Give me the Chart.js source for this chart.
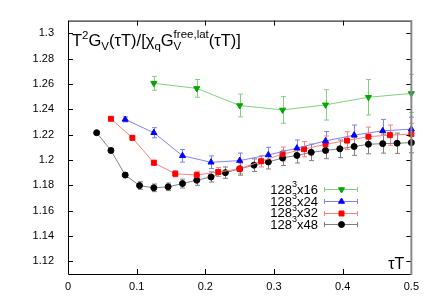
<!DOCTYPE html>
<html>
<head>
<meta charset="utf-8">
<script src="https://cdn.jsdelivr.net/npm/chart.js@4.4.1/dist/chart.umd.min.js"></script>
<style>
    html, body { margin: 0; padding: 0; background: #fff; }
    #wrap { width: 425px; height: 298px; }
</style>
</head>
<body>
<div id="wrap"><canvas id="chart"></canvas></div>
<script>
// Axis ticks
const xTicks = [0, 0.1, 0.2, 0.3, 0.4, 0.5];
const yTicks = [1.12, 1.14, 1.16, 1.18, 1.2, 1.22, 1.24, 1.26, 1.28, 1.3];

// 128^3 x 16
const x16 = [0.125, 0.1875, 0.25, 0.3125, 0.375, 0.4375, 0.5];
const y16 = [1.2605, 1.2565, 1.243, 1.2395, 1.2435, 1.2495, 1.2525];
const e16 = [0.0055, 0.007, 0.009, 0.0105, 0.012, 0.014, 0.015];

// 128^3 x 24
const x24 = [0.0833, 0.125, 0.1667, 0.2083, 0.25, 0.2917, 0.3333, 0.375, 0.4167, 0.4583, 0.5];
const y24 = [1.232, 1.2215, 1.2033, 1.1982, 1.1995, 1.204, 1.2093, 1.215, 1.2196, 1.223, 1.2243];
const e24 = [0.002, 0.004, 0.005, 0.005, 0.006, 0.006, 0.0065, 0.0075, 0.008, 0.009, 0.0095];

// 128^3 x 32
const x32 = [0.0625, 0.09375, 0.125, 0.15625, 0.1875, 0.21875, 0.25, 0.28125, 0.3125, 0.34375, 0.375, 0.40625, 0.4375, 0.46875, 0.5];
const y32 = [1.2325, 1.2175, 1.1978, 1.1891, 1.1881, 1.1905, 1.193, 1.199, 1.2047, 1.2085, 1.2124, 1.2153, 1.2184, 1.2196, 1.2204];
const e32 = [0.001, 0.0015, 0.002, 0.0025, 0.003, 0.0035, 0.004, 0.0045, 0.0055, 0.006, 0.0065, 0.007, 0.0075, 0.008, 0.0085];

// 128^3 x 48
const x48 = [0.0417, 0.0625, 0.0833, 0.1042, 0.125, 0.1458, 0.1667, 0.1875, 0.2083, 0.2292, 0.25, 0.2708,
             0.2917, 0.3125, 0.3333, 0.3542, 0.375, 0.3958, 0.4167, 0.4375, 0.4583, 0.4792, 0.5];
const y48 = [1.2215, 1.2075, 1.1881, 1.1798, 1.178, 1.1788, 1.1814, 1.184, 1.1866, 1.19, 1.193, 1.1959,
             1.1984, 1.2016, 1.2036, 1.206, 1.2075, 1.2088, 1.2106, 1.2124, 1.2129, 1.2132, 1.2137];
const e48 = [0.001, 0.0015, 0.002, 0.003, 0.003, 0.003, 0.0035, 0.004, 0.004, 0.0045, 0.005, 0.005,
             0.0055, 0.006, 0.006, 0.0065, 0.0065, 0.007, 0.007, 0.0075, 0.0075, 0.008, 0.008];

const labels = ['128³x16', '128³x24', '128³x32', '128³x48'];

const FONT = '"Liberation Sans", Arial, sans-serif';

function series(label, xs, ys, es, color, lineColor, style, radius, rotation) {
    return {
        label: label,
        data: xs.map((x, i) => ({ x: x, y: ys[i], e: es[i] })),
        borderColor: lineColor,
        backgroundColor: color,
        pointBorderColor: color,
        pointBackgroundColor: color,
        pointStyle: style,
        pointRadius: radius,
        pointRotation: rotation || 0,
        pointBorderWidth: 1,
        borderWidth: 1,
        errColor: lineColor,
        tension: 0,
        clip: false
    };
}

const datasets = [
    series(labels[0], x16, y16, e16, '#00a800', '#80d080', 'triangle', 3.5, 180),
    series(labels[1], x24, y24, e24, '#0000ff', '#8080ff', 'triangle', 3.5, 0),
    series(labels[2], x32, y32, e32, '#ff0000', '#ff8080', 'rect', 3.5, 0),
    series(labels[3], x48, y48, e48, '#000000', '#808080', 'circle', 3, 0)
];

// error bars drawn under the markers
const errorBars = {
    id: 'errorBars',
    beforeDatasetsDraw(chart) {
        const ctx = chart.ctx;
        const xs = chart.scales.x, ys = chart.scales.y;
        ctx.save();
        chart.data.datasets.forEach(ds => {
            ctx.strokeStyle = ds.errColor;
            ctx.lineWidth = 1;
            ds.data.forEach(p => {
                const px = Math.round(xs.getPixelForValue(p.x)) + 0.5;
                const top = ys.getPixelForValue(p.y + p.e);
                const bot = ys.getPixelForValue(p.y - p.e);
                ctx.beginPath();
                ctx.moveTo(px, top); ctx.lineTo(px, bot);
                ctx.moveTo(px - 2.5, top); ctx.lineTo(px + 2.5, top);
                ctx.moveTo(px - 2.5, bot); ctx.lineTo(px + 2.5, bot);
                ctx.stroke();
            });
        });
        ctx.restore();
    }
};

// frame, mirrored ticks, labels and key
const decorations = {
    id: 'decorations',
    afterDraw(chart) {
        const ctx = chart.ctx;
        const a = chart.chartArea;
        const xs = chart.scales.x, ys = chart.scales.y;
        ctx.save();

        // ticks on all four sides
        ctx.strokeStyle = '#000';
        ctx.lineWidth = 1;
        ctx.beginPath();
        xTicks.forEach(v => {
            const px = Math.round(xs.getPixelForValue(v)) + 0.5;
            ctx.moveTo(px, a.bottom); ctx.lineTo(px, a.bottom - 5);
            ctx.moveTo(px, a.top); ctx.lineTo(px, a.top + 5);
        });
        yTicks.forEach(v => {
            const py = Math.round(ys.getPixelForValue(v)) + 0.5;
            ctx.moveTo(a.left, py); ctx.lineTo(a.left + 5, py);
            ctx.moveTo(a.right, py); ctx.lineTo(a.right - 5, py);
        });
        ctx.stroke();

        // frame
        ctx.beginPath();
        ctx.moveTo(a.right, a.top + 0.5);
        ctx.lineTo(a.left + 0.5, a.top + 0.5);
        ctx.lineTo(a.left + 0.5, a.bottom + 0.5);
        ctx.lineTo(a.right, a.bottom + 0.5);
        ctx.stroke();
        ctx.strokeStyle = '#888';
        ctx.lineWidth = 2;
        ctx.beginPath();
        ctx.moveTo(a.right, a.top);
        ctx.lineTo(a.right, a.bottom + 1);
        ctx.stroke();

        // y label inside the frame
        ctx.fillStyle = '#000';
        ctx.textBaseline = 'alphabetic';
        ctx.textAlign = 'left';
        const big = '16.5px ' + FONT, small = '11.5px ' + FONT;
        let x = a.left + 4;
        const base = a.top + 25;
        const put = (t, f, dy) => {
            ctx.font = f;
            ctx.fillText(t, x, base + dy);
            x += ctx.measureText(t).width;
        };
        put('T', big, 0); put('2', small, -7); put('G', big, 0); put('V', small, 4);
        put('(τT)/[χ', big, 0); put('q', small, 4); put('G', big, 0);
        const xg = x;
        put('V', small, 4);
        const xv = x;
        x = xg; put('free,lat', small, -8);
        x = Math.max(x, xv);
        put('(τT)]', big, 0);

        // x label inside the frame
        ctx.font = '16px ' + FONT;
        ctx.textAlign = 'right';
        ctx.fillText('τT', a.right - 7, a.bottom - 5);

        // key
        const rows = [189, 201, 212.5, 224];
        chart.data.datasets.forEach((ds, i) => {
            const y = rows[i];
            ctx.textAlign = 'right';
            ctx.textBaseline = 'middle';
            ctx.fillStyle = '#000';
            ctx.font = '13px ' + FONT;
            const parts = ds.label.split('³');
            const w2 = ctx.measureText(parts[1]).width;
            ctx.fillText(parts[1], 318, y + 1);
            ctx.font = '9px ' + FONT;
            const w3 = ctx.measureText('3').width;
            ctx.fillText('3', 318 - w2, y - 4);
            ctx.font = '13px ' + FONT;
            ctx.fillText(parts[0], 318 - w2 - w3, y + 1);

            ctx.strokeStyle = ds.errColor;
            ctx.lineWidth = 1;
            const yy = Math.round(y) + 0.5;
            ctx.beginPath();
            ctx.moveTo(324, yy); ctx.lineTo(358, yy);
            ctx.moveTo(324.5, yy - 2.5); ctx.lineTo(324.5, yy + 2.5);
            ctx.moveTo(357.5, yy - 2.5); ctx.lineTo(357.5, yy + 2.5);
            ctx.stroke();
            ctx.fillStyle = ds.pointBackgroundColor;
            ctx.strokeStyle = ds.pointBorderColor;
            Chart.helpers.drawPoint(ctx, {
                pointStyle: ds.pointStyle, radius: ds.pointRadius,
                rotation: ds.pointRotation, borderWidth: 1
            }, 341.5, yy);
        });
        ctx.restore();
    }
};

new Chart(document.getElementById('chart'), {
    type: 'line',
    data: { datasets: datasets },
    options: {
        responsive: true,
        maintainAspectRatio: false,
        animation: false,
        layout: { padding: { top: 13, right: 13, left: 0, bottom: 0 } },
        plugins: {
            legend: { display: false },
            tooltip: { enabled: false }
        },
        scales: {
            x: {
                type: 'linear',
                min: 0,
                max: 0.5,
                afterBuildTicks: s => { s.ticks = xTicks.map(v => ({ value: v })); },
                afterFit: s => { s.height = 24; },
                grid: { display: false, drawTicks: false },
                border: { display: false },
                ticks: {
                    color: '#000',
                    padding: 6,
                    font: { family: FONT, size: 11 },
                    callback: v => String(v)
                }
            },
            y: {
                type: 'linear',
                min: 1.11,
                max: 1.31,
                afterBuildTicks: s => { s.ticks = yTicks.map(v => ({ value: v })); },
                afterFit: s => { s.width = 68; },
                grid: { display: false, drawTicks: false },
                border: { display: false },
                ticks: {
                    color: '#000',
                    padding: 14,
                    font: { family: FONT, size: 11 },
                    callback: v => String(Math.round(v * 100) / 100)
                }
            }
        }
    },
    plugins: [errorBars, decorations]
});
</script>
</body>
</html>
